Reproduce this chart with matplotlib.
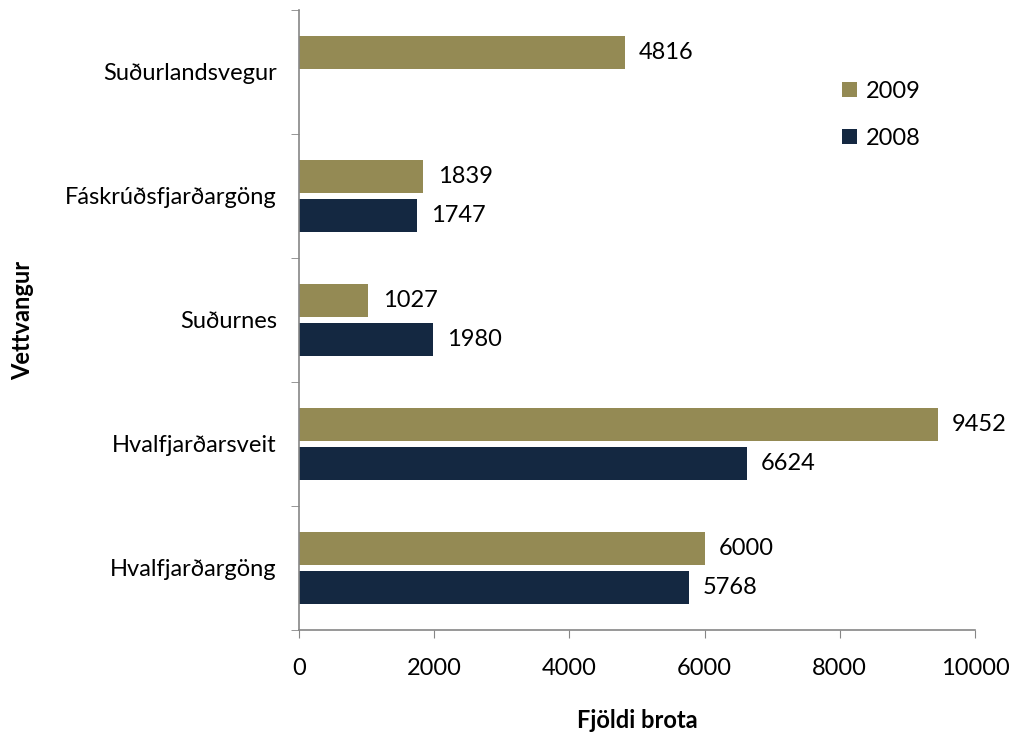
import matplotlib
matplotlib.use("Agg")
import matplotlib.pyplot as plt
import numpy as np

plt.rcParams['font.family'] = ['Lato', 'DejaVu Sans']

categories = ["Hvalfjarðargöng", "Hvalfjarðarsveit", "Suðurnes", "Fáskrúðsfjarðargöng", "Suðurlandsvegur"]
vals_2009 = [6000, 9452, 1027, 1839, 4816]
vals_2008 = [5768, 6624, 1980, 1747, None]
xticks = [0, 2000, 4000, 6000, 8000, 10000]

c2009 = "#948A54"
c2008 = "#142841"
axis_col = "#868686"

fig = plt.figure(figsize=(10.14, 7.34), dpi=100)
ax = fig.add_axes([0.2949, 0.1417, 0.6666, 0.8447])

y = np.arange(len(categories))
h = 0.265
off = 0.157
v08 = [v if v is not None else 0 for v in vals_2008]
b09 = ax.barh(y + off, vals_2009, height=h, color=c2009, label="2009")
b08 = ax.barh(y - off, v08, height=h, color=c2008, label="2008")

fs = 17
for yi, v in zip(y, vals_2009):
    ax.text(v + 210, yi + off, str(v), va='center', ha='left', fontsize=fs)
for yi, v in zip(y, vals_2008):
    if v is not None:
        ax.text(v + 210, yi - off, str(v), va='center', ha='left', fontsize=fs)

ax.set_xlim(0, 10000)
ax.set_ylim(-0.5, len(categories) - 0.5)
ax.set_xticks(xticks)
ax.set_xticklabels([str(t) for t in xticks], fontsize=fs)
ax.tick_params(axis='x', direction='out', length=6, color=axis_col, pad=14)

ax.set_yticks(y)
ax.set_yticklabels(categories, fontsize=fs)
ax.tick_params(axis='y', which='major', length=0, pad=16)
ax.set_yticks(np.arange(-0.5, len(categories), 1.0), minor=True)
ax.tick_params(axis='y', which='minor', direction='out', length=6, color=axis_col)

for s in ['top', 'right']:
    ax.spines[s].set_visible(False)
for s in ['left', 'bottom']:
    ax.spines[s].set_color(axis_col)
    ax.spines[s].set_linewidth(1.2)

ax.set_xlabel("Fjöldi brota", fontsize=fs, fontweight='bold', labelpad=22)
ax.set_ylabel("Vettvangur", fontsize=fs, fontweight='bold', labelpad=22)

leg = ax.legend(handles=[b09, b08], loc='upper left', bbox_to_anchor=(0.772, 0.92),
                frameon=False, fontsize=fs, handlelength=0.65, handleheight=0.65,
                labelspacing=1.1, handletextpad=0.35)

fig.savefig("out.png", dpi=100)
